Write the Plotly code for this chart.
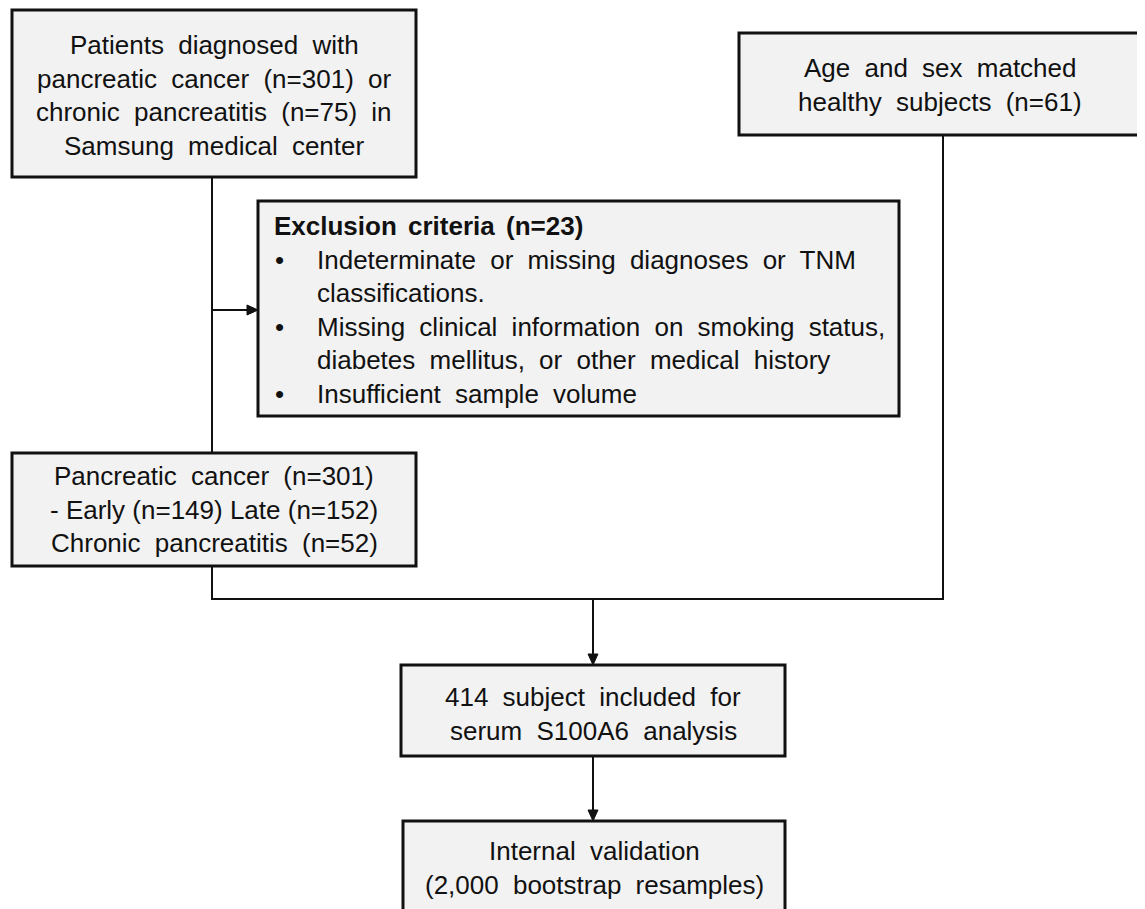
import plotly.graph_objects as go

# ---- content (data) ----
source_lines = ["Patients diagnosed with", "pancreatic cancer (n=301) or",
                "chronic pancreatitis (n=75) in", "Samsung medical center"]
healthy_lines = ["Age and sex matched", "healthy subjects (n=61)"]
excl_title = "Exclusion criteria (n=23)"
excl_items = [["Indeterminate or missing diagnoses or TNM", "classifications."],
              ["Missing clinical information on smoking status,",
               "diabetes mellitus, or other medical history"],
              ["Insufficient sample volume"]]
group_lines = ["Pancreatic cancer (n=301)", "- Early (n=149) Late (n=152)",
               "Chronic pancreatitis (n=52)"]
included_lines = ["414 subject included for", "serum S100A6 analysis"]
validation_lines = ["Internal validation", "(2,000 bootstrap resamples)"]

# ---- layout geometry ----
W, H = 1145, 909
OFF = 8  # page body margin
FILL = "#f2f2f2"
EDGE = "#111111"
FONT = "Liberation Sans, Arial, sans-serif"
FS = 26
PITCH = 33.6
WS = 7  # extra word spacing (px)

fig = go.Figure()
shapes = []
annos = []


def box(x0, y0, x1, y1):
    shapes.append(dict(type="rect", xref="x", yref="y", x0=x0, y0=y0, x1=x1, y1=y1,
                       fillcolor=FILL, line=dict(color=EDGE, width=3), layer="below"))


def line(pts):
    path = "M " + " L ".join(f"{x},{y}" for x, y in pts)
    shapes.append(dict(type="path", xref="x", yref="y", path=path,
                       line=dict(color=EDGE, width=2), layer="below"))


def arrow_down(x, y_tip):
    shapes.append(dict(type="path", xref="x", yref="y",
                       path=f"M {x-5},{y_tip-11} L {x+5},{y_tip-11} L {x},{y_tip} Z",
                       fillcolor=EDGE, line=dict(color=EDGE, width=1)))


def arrow_right(x_tip, y):
    shapes.append(dict(type="path", xref="x", yref="y",
                       path=f"M {x_tip-11},{y-5} L {x_tip-11},{y+5} L {x_tip},{y} Z",
                       fillcolor=EDGE, line=dict(color=EDGE, width=1)))


def text(x, y, s, anchor="center", bold=False, ws=WS):
    t = f"<b>{s}</b>" if bold else s
    if ws:
        t = f'<span style="word-spacing:{ws}px">{t}</span>'
    annos.append(dict(x=x, y=y, xref="x", yref="y", text=t,
                      showarrow=False, xanchor=anchor, yanchor="middle",
                      font=dict(family=FONT, size=FS, color="#111111")))


def centered_lines(cx, y_first, lines, ws_list=None):
    for i, s in enumerate(lines):
        text(cx, y_first + i * PITCH, s, ws=(ws_list[i] if ws_list else WS))


# connectors
line([(212, 177), (212, 453)])
line([(212, 310), (248, 310)])
arrow_right(258, 310)
line([(212, 566), (212, 599), (943, 599), (943, 135)])
line([(593, 599), (593, 655)])
arrow_down(593, 665)
line([(593, 756), (593, 811)])
arrow_down(593, 821)

# boxes
box(12, 10, 416, 177)
box(739, 33, 1142, 135)
box(258, 201, 899, 416)
box(12, 453, 416, 566)
box(401, 665, 785, 756)
box(403, 821, 785, 925)

# texts
centered_lines(214, 45, source_lines)
centered_lines(940, 68, healthy_lines)
text(272, 226, excl_title, anchor="left", bold=True, ws=4)
y = 226 + PITCH
for item in excl_items:
    text(273, y, "•", anchor="left", ws=0)
    for s in item:
        text(315, y, s, anchor="left")
        y += PITCH
centered_lines(214, 476, group_lines, ws_list=[WS, 0, WS])
centered_lines(593, 697, included_lines)
centered_lines(594, 851, validation_lines)

fig.update_layout(
    width=W, height=H, autosize=False,
    margin=dict(l=0, r=0, t=0, b=0),
    paper_bgcolor="white", plot_bgcolor="white",
    xaxis=dict(range=[OFF, W + OFF], visible=False, fixedrange=True),
    yaxis=dict(range=[H + OFF, OFF], visible=False, fixedrange=True),
    shapes=shapes, annotations=annos, showlegend=False,
)
fig.write_html("out.html")
